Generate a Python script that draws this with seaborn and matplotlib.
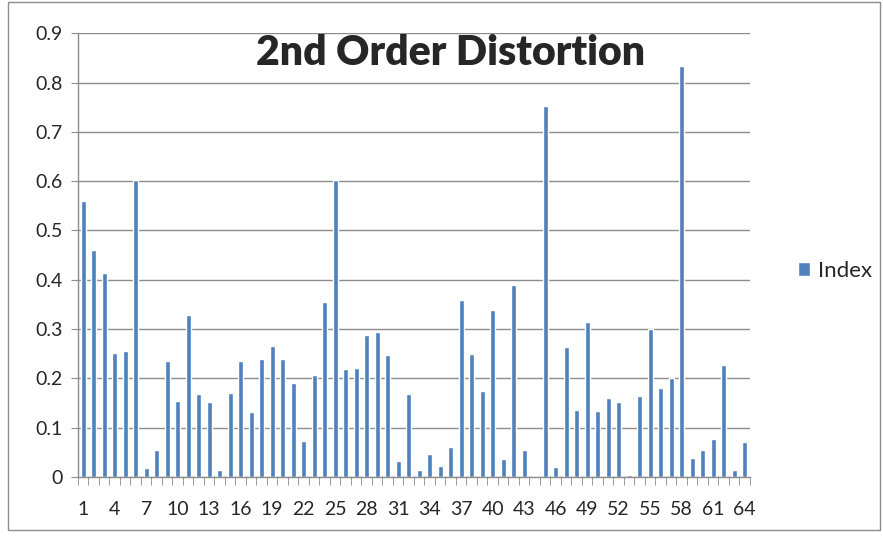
import numpy as np
import pandas as pd
import seaborn as sns
import matplotlib.pyplot as plt
from matplotlib.patches import Rectangle
from matplotlib.ticker import FixedLocator, FixedFormatter

# values, one per index 1..64
index = list(range(1, 65))
distortion = [
    0.560, 0.460, 0.413, 0.252, 0.255, 0.603, 0.018, 0.054,
    0.235, 0.155, 0.328, 0.168, 0.153, 0.015, 0.170, 0.235,
    0.131, 0.240, 0.266, 0.240, 0.190, 0.073, 0.206, 0.355,
    0.603, 0.220, 0.222, 0.288, 0.295, 0.247, 0.032, 0.168,
    0.015, 0.047, 0.023, 0.061, 0.360, 0.250, 0.175, 0.338,
    0.037, 0.389, 0.054, 0.003, 0.752, 0.020, 0.264, 0.136,
    0.314, 0.133, 0.160, 0.153, 0.005, 0.165, 0.300, 0.181,
    0.200, 0.834, 0.039, 0.054, 0.078, 0.227, 0.015, 0.071,
]
y_ticks = [0, 0.1, 0.2, 0.3, 0.4, 0.5, 0.6, 0.7, 0.8, 0.9]
y_labels = ["0", "0.1", "0.2", "0.3", "0.4", "0.5", "0.6", "0.7", "0.8", "0.9"]

df = pd.DataFrame({"idx": [str(i) for i in index], "value": distortion})

sns.set_style("white")
plt.rcParams["font.family"] = ["Lato", "DejaVu Sans"]

fig = plt.figure(figsize=(8.83, 5.36), dpi=100)
ax = fig.add_axes([0.0883, 0.110, 0.761, 0.828])

sns.barplot(data=df, x="idx", y="value", color="#4F81BD", width=0.45,
            saturation=1, label="Index", ax=ax)

ax.set_xlim(-0.5, 63.5)
ax.set_ylim(0, 0.9)
ax.set_xlabel("")
ax.set_ylabel("")

# gridlines and y axis
ax.yaxis.set_major_locator(FixedLocator(y_ticks))
ax.yaxis.set_major_formatter(FixedFormatter(y_labels))
ax.grid(axis="y", color="#8c8c8c", linewidth=1)
ax.set_axisbelow(True)
ax.tick_params(axis="y", which="major", left=True, length=5, color="#8c8c8c",
               labelsize=14, pad=6)

# category labels every third bar, tick marks between categories
pos = list(range(0, 64, 3))
ax.set_xticks(pos)
ax.set_xticklabels([str(index[p]) for p in pos])
ax.tick_params(axis="x", which="major", bottom=False, labelsize=14, pad=14)
ax.set_xticks(np.arange(-0.5, 64, 1), minor=True)
ax.tick_params(axis="x", which="minor", bottom=True, length=6, color="#8c8c8c")

for side in ["top", "right"]:
    ax.spines[side].set_visible(False)
for side in ["left", "bottom"]:
    ax.spines[side].set_color("#8c8c8c")
    ax.spines[side].set_linewidth(1)

ax.text(0.555, 0.955, "2nd Order Distortion", transform=ax.transAxes,
        ha="center", va="center", fontsize=29.5, fontweight="heavy")

ax.legend(loc="center left", bbox_to_anchor=(0.881, 0.495),
          bbox_transform=fig.transFigure, frameon=False, fontsize=16,
          handlelength=0.55, handleheight=0.55, handletextpad=0.35)

fig.patches.append(Rectangle((0.009, 0.011), 0.988, 0.985, transform=fig.transFigure,
                             fill=False, edgecolor="#8c8c8c", linewidth=1))

fig.savefig("out.png", dpi=100)
